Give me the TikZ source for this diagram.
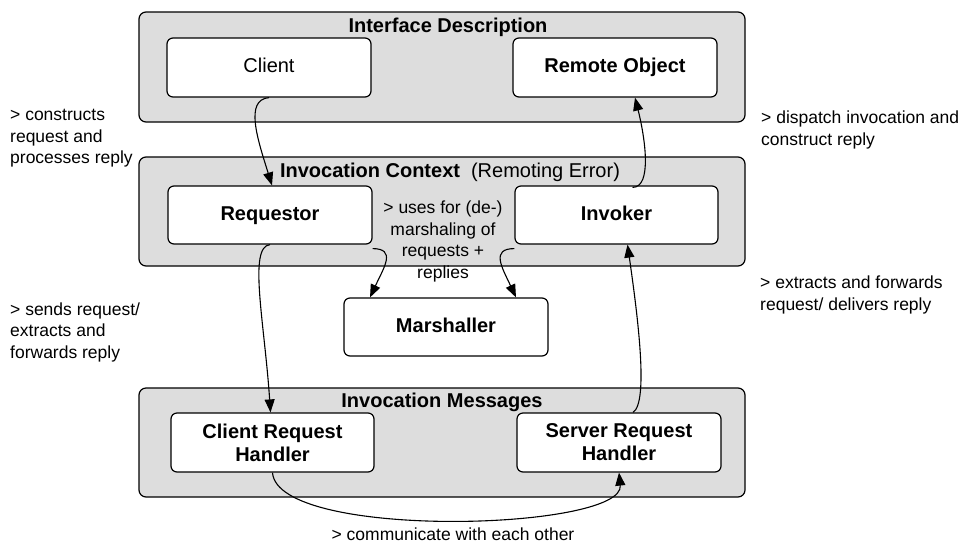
\documentclass[tikz,border=0pt]{standalone}
\usepackage{fontspec}
\setmainfont{Liberation Sans}
\usetikzlibrary{arrows.meta,calc}

\definecolor{groupgray}{HTML}{DDDDDD}
\tikzset{
  group/.style={draw=black, line width=1.2pt, fill=groupgray, rounded corners=7pt,
    inner sep=0pt, minimum width=606pt, minimum height=109pt},
  comp/.style={draw=black, line width=1.2pt, fill=white, rounded corners=6pt,
    inner sep=0pt, minimum width=204pt, minimum height=58pt, align=center,
    font=\fontsize{20}{23}\selectfont\bfseries},
  oneline/.style={text height=15pt, text depth=4.5pt},
  grouptitle/.style={font=\fontsize{20}{23}\selectfont\bfseries, inner sep=0pt,
    text height=15pt, text depth=4.5pt},
  note/.style={font=\fontsize{17.5}{21.5}\selectfont, inner sep=0pt},
  link/.style={draw=black, line width=1.1pt, -{Triangle[length=13pt,width=10pt]}},
}

\begin{document}
\begin{tikzpicture}[x=1pt,y=-1pt]
  \useasboundingbox (0,0) rectangle (960,544);

  % layer groups
  \node[group, minimum height=110pt] (ifdesc) at (442,67) {};
  \node[group] (invctx) at (442,211.5) {};
  \node[group] (invmsg) at (442,442.5) {};

  \node[grouptitle] (ifdesc-title) at (448,27) {Interface Description};
  \node[grouptitle] (invctx-title) at (450,172)
    {Invocation Context\hspace{11pt}\mdseries (Remoting Error)};
  \node[grouptitle] (invmsg-title) at (442,402) {Invocation Messages};

  % components
  \node[comp, oneline, minimum height=59pt, font=\fontsize{20}{23}\selectfont] (client) at (269,67.5) {Client};
  \node[comp, oneline, minimum height=59pt] (remote) at (615,67.5) {Remote Object};
  \node[comp, oneline] (requestor) at (270,215) {Requestor};
  \node[comp, oneline, minimum width=203pt] (invoker) at (616.5,215) {Invoker};
  \node[comp, oneline] (marshaller) at (446,327) {Marshaller};
  \node[comp, minimum width=203pt, minimum height=59pt] (crh) at (272.5,442.5) {Client Request\\Handler};
  \node[comp, minimum height=59pt] (srh) at (619,442.5) {Server Request\\Handler};

  % connectors
  \draw[link] (client.south) .. controls +(-25,2) and +(-14,-45) .. ([xshift=2pt]requestor.north);
  \draw[link] (requestor.south) .. controls +(-22,2) and +(-6,-90) .. ([xshift=-2pt]crh.north);
  \draw[link] ([yshift=-4pt]requestor.south east) .. controls +(24,0) and +(14,-30) .. ([xshift=-76pt]marshaller.north);
  \draw[link] ([yshift=-4pt]invoker.south west) .. controls +(-24,0) and +(-14,-30) .. ([xshift=70pt]marshaller.north);
  \draw[link] ([xshift=16pt,yshift=-2pt]invoker.north) .. controls +(20,0) and +(10,40) .. ([xshift=20pt]remote.south);
  \draw[link] ([xshift=14pt]srh.north) .. controls +(16,-10) and +(10,70) .. ([xshift=11pt]invoker.south);
  \draw[link] (crh.south) .. controls +(5,68) and +(6,58) .. (srh.south);

  % annotations
  \node[note, anchor=west, align=left] (note-client) at (10,138.5)
    {> constructs\\request and\\processes reply};
  \node[note, anchor=west, align=left] (note-requestor) at (10,332)
    {> sends request/\\extracts and\\forwards reply};
  \node[note, anchor=west, align=left] (note-remote) at (761,130)
    {> dispatch invocation and\\construct reply};
  \node[note, anchor=west, align=left] (note-invoker) at (760,295)
    {> extracts and forwards\\request/ delivers reply};
  \node[note, align=center] (note-marshal) at (443,241.5)
    {> uses for (de-)\\marshaling of\\requests +\\replies};
  \node[note] (note-handlers) at (453,534) {> communicate with each other};
\end{tikzpicture}
\end{document}
